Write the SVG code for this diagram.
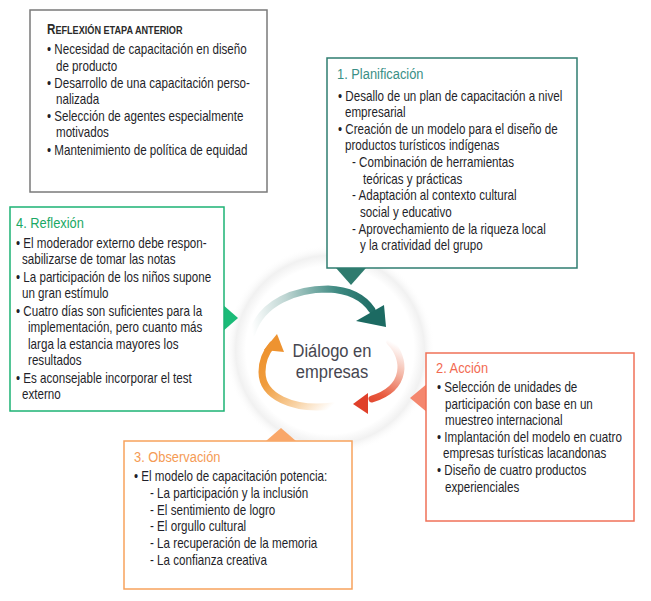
<svg xmlns="http://www.w3.org/2000/svg" width="651" height="601" viewBox="0 0 651 601">
<defs>
<style>
.t{font-family:"Liberation Sans",Arial,sans-serif;font-size:14px;fill:#1f1f2a}
.h{font-family:"Liberation Sans",Arial,sans-serif;font-size:15.5px}
.box{fill:#fff;stroke-width:1.5}
.c{font-family:"Liberation Sans",Arial,sans-serif;font-size:19px;fill:#464650;text-anchor:middle}
</style>
<radialGradient id="halo" cx="0.5" cy="0.5" r="0.5">
<stop offset="0" stop-color="#ffffff"/>
<stop offset="0.8" stop-color="#ffffff"/>
<stop offset="0.9" stop-color="#f1f1f1"/>
<stop offset="1" stop-color="#ffffff" stop-opacity="0"/>
</radialGradient>
<linearGradient id="gTeal" gradientUnits="userSpaceOnUse" x1="252" y1="330" x2="378" y2="316">
<stop offset="0" stop-color="#ffffff"/>
<stop offset="0.3" stop-color="#bcd4d1"/>
<stop offset="0.7" stop-color="#3f8a82"/>
<stop offset="1" stop-color="#1c6a62"/>
</linearGradient>
<linearGradient id="gRed" gradientUnits="userSpaceOnUse" x1="392" y1="342" x2="360" y2="403">
<stop offset="0" stop-color="#ffffff"/>
<stop offset="0.35" stop-color="#f4b9a9"/>
<stop offset="0.75" stop-color="#e85a3e"/>
<stop offset="1" stop-color="#e0402a"/>
</linearGradient>
<linearGradient id="gOrange" gradientUnits="userSpaceOnUse" x1="332" y1="406" x2="274" y2="342">
<stop offset="0" stop-color="#ffffff"/>
<stop offset="0.3" stop-color="#f8d2a4"/>
<stop offset="0.7" stop-color="#f09c3c"/>
<stop offset="1" stop-color="#ee9330"/>
</linearGradient>
</defs>

<g id="center">
<circle cx="330" cy="350" r="105" fill="url(#halo)"/>
<g transform="translate(332 0) scale(0.87 1)">
<text class="c" x="0" y="357">Diálogo en</text>
<text class="c" x="0" y="378">empresas</text>
</g>
</g>

<g id="connectors">
<path d="M252 333 C262 302 296 289 328 289 C350 290 364 298 372 310" fill="none" stroke="url(#gTeal)" stroke-width="7" stroke-linecap="round"/>
<polygon points="386,327 356,321 384,305" fill="#1c6a62"/>
<path d="M390 342 C406 358 408 388 372 399" fill="none" stroke="url(#gRed)" stroke-width="7" stroke-linecap="round"/>
<polygon points="353,404 368,393 368,414" fill="#e0402a"/>
<path d="M333 406 C292 411 262 396 262 372 C262 360 266 352 272 345" fill="none" stroke="url(#gOrange)" stroke-width="7" stroke-linecap="round"/>
<polygon points="277,334 264,350 284,352" fill="#ee9330"/>
<polygon points="336,268 366,268 351,285" fill="#2f7b6e"/>
<polygon points="222,304 222,332 238,318" fill="#1bbb78"/>
<polygon points="428,383 428,413 410,398" fill="#f4876e"/>
</g>

<g id="anterior">
<rect class="box" x="30" y="10" width="237" height="182" stroke="#7a7a7a"/>
<g transform="translate(47 0) scale(0.83 1)">
<text x="0" y="34" style="font-family:'Liberation Sans',Arial,sans-serif;font-weight:bold;fill:#2a2a2a"><tspan font-size="14">R</tspan><tspan font-size="11">EFLEXIÓN ETAPA ANTERIOR</tspan></text>
<text class="t" x="0" y="54">• Necesidad de capacitación en diseño</text>
<text class="t" x="10.8" y="71">de producto</text>
<text class="t" x="0" y="88">• Desarrollo de una capacitación perso-</text>
<text class="t" x="10.8" y="104">nalizada</text>
<text class="t" x="0" y="121">• Selección de agentes especialmente</text>
<text class="t" x="10.8" y="137">motivados</text>
<text class="t" x="0" y="155">• Mantenimiento de política de equidad</text>
</g>
</g>

<g id="planificacion">
<rect class="box" x="327" y="58" width="250" height="210" stroke="#2f7d70"/>
<g transform="translate(337 0) scale(0.83 1)">
<text class="h" x="0" y="79" fill="#3a8f86">1. Planificación</text>
<text class="t" x="1.2" y="101">• Desallo de un plan de capacitación a nivel</text>
<text class="t" x="9.6" y="117">empresarial</text>
<text class="t" x="1.2" y="134">• Creación de un modelo para el diseño de</text>
<text class="t" x="9.6" y="150">productos turísticos indígenas</text>
<text class="t" x="18.1" y="167">- Combinación de herramientas</text>
<text class="t" x="31.3" y="184">teóricas y prácticas</text>
<text class="t" x="18.1" y="200">- Adaptación al contexto cultural</text>
<text class="t" x="27.7" y="217">social y educativo</text>
<text class="t" x="18.1" y="234">- Aprovechamiento de la riqueza local</text>
<text class="t" x="27.7" y="250">y la cratividad del grupo</text>
</g>
</g>

<g id="reflexion">
<rect class="box" x="10" y="207" width="214" height="204" stroke="#1db374"/>
<g transform="translate(16 0) scale(0.83 1)">
<text class="h" x="0" y="228" fill="#1aa865">4. Reflexión</text>
<text class="t" x="0" y="248">• El moderador externo debe respon-</text>
<text class="t" x="7.2" y="264">sabilizarse de tomar las notas</text>
<text class="t" x="0" y="282">• La participación de los niños supone</text>
<text class="t" x="7.2" y="298">un gran estímulo</text>
<text class="t" x="0" y="316">• Cuatro días son suficientes para la</text>
<text class="t" x="14.5" y="332">implementación, pero cuanto más</text>
<text class="t" x="14.5" y="349">larga la estancia mayores los</text>
<text class="t" x="14.5" y="365">resultados</text>
<text class="t" x="0" y="383">• Es aconsejable incorporar el test</text>
<text class="t" x="7.2" y="399">externo</text>
</g>
</g>

<g id="accion">
<rect class="box" x="426" y="353" width="208" height="168" stroke="#f07158"/>
<g transform="translate(436 0) scale(0.83 1)">
<text class="h" x="0" y="373" fill="#f26a51">2. Acción</text>
<text class="t" x="1.2" y="392">• Selección de unidades de</text>
<text class="t" x="10.8" y="409">participación con base en un</text>
<text class="t" x="10.8" y="425">muestreo internacional</text>
<text class="t" x="1.2" y="442">• Implantación del modelo en cuatro</text>
<text class="t" x="8.4" y="458">empresas turísticas lacandonas</text>
<text class="t" x="1.2" y="475">• Diseño de cuatro productos</text>
<text class="t" x="10.8" y="492">experienciales</text>
</g>
</g>

<g id="observacion">
<rect class="box" x="124" y="441" width="228" height="148" stroke="#f7a25c"/>
<polygon points="266,441 296,441 281,428" fill="#f9a769"/>
<g transform="translate(134 0) scale(0.83 1)">
<text class="h" x="0" y="462" fill="#f59b55">3. Observación</text>
<text class="t" x="0" y="481">• El modelo de capacitación potencia:</text>
<text class="t" x="19.3" y="498">- La participación y la inclusión</text>
<text class="t" x="19.3" y="515">- El sentimiento de logro</text>
<text class="t" x="19.3" y="531">- El orgullo cultural</text>
<text class="t" x="19.3" y="548">- La recuperación de la memoria</text>
<text class="t" x="19.3" y="565">- La confianza creativa</text>
</g>
</g>
</svg>
